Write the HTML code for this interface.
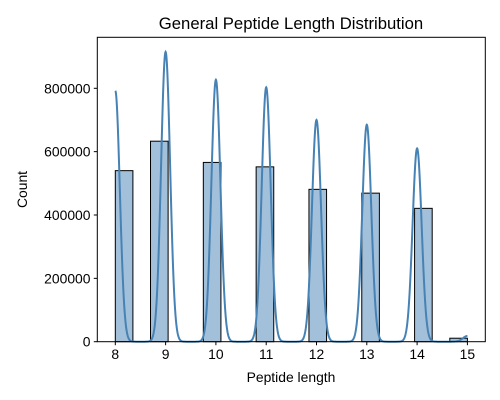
<!DOCTYPE html>
<html><head><meta charset="utf-8"><style>
body{margin:0;background:#fff;}
svg{display:block;font-family:"Liberation Sans","DejaVu Sans",sans-serif;}
</style></head><body>
<svg id="chart" width="500" height="400" viewBox="0 0 500 400">
<text x="291" y="29" font-size="16.7" text-anchor="middle">General Peptide Length Distribution</text>
<g id="bars"></g>
<path id="kde" fill="none" stroke="#4682b4" stroke-width="2"></path>
<rect x="97.3" y="37.3" width="388" height="304.4" fill="none" stroke="#000" stroke-width="1"></rect>
<g id="xt"></g>
<g id="yt"></g>
<text x="291" y="382" font-size="13.9" text-anchor="middle">Peptide length</text>
<text transform="translate(27,189.5) rotate(-90)" font-size="13.9" text-anchor="middle">Count</text>
</svg>
<script>
const binStarts=[8,8.7,9.75,10.8,11.85,12.9,13.95,14.65];
const binCounts=[540000,633000,566000,552000,481000,469000,421000,11000];
const kdeCenters=[8,9,10,11,12,13,14,15];
const kdePeaks=[792000,915000,827000,803000,700000,685000,610000,18000];
const xTicks=[8,9,10,11,12,13,14,15];
const yTicks=[0,200000,400000,600000,800000];
const binWidth=0.35, sigma=0.09;
const NS='http://www.w3.org/2000/svg';
const X=v=>115.3+(v-8)*50.3;
const Y=v=>341.7-v*253.4/800000;
const bars=document.getElementById('bars');
binStarts.forEach((s,i)=>{
  const r=document.createElementNS(NS,'rect');
  r.setAttribute('x',X(s));r.setAttribute('width',X(s+binWidth)-X(s));
  r.setAttribute('y',Y(binCounts[i]));r.setAttribute('height',Y(0)-Y(binCounts[i]));
  r.setAttribute('fill','#a3c0da');r.setAttribute('stroke','#000');r.setAttribute('stroke-width','1');
  
  
  bars.appendChild(r);
});
let d='';
for(let i=0;i<=1400;i++){
  const x=8+i*0.005;let y=0;
  kdeCenters.forEach((c,j)=>{y+=kdePeaks[j]*Math.exp(-0.5*((x-c)/sigma)**2);});
  d+=(i?'L':'M')+X(x).toFixed(2)+' '+Y(y).toFixed(2);
}
document.getElementById('kde').setAttribute('d',d);
const xt=document.getElementById('xt');
xTicks.forEach(t=>{
  const l=document.createElementNS(NS,'line');
  l.setAttribute('x1',X(t));l.setAttribute('x2',X(t));l.setAttribute('y1',341.7);l.setAttribute('y2',345.2);l.setAttribute('stroke','#000');
  
  
  xt.appendChild(l);
  const tx=document.createElementNS(NS,'text');
  tx.setAttribute('x',X(t));tx.setAttribute('y',359);tx.setAttribute('font-size','13.9');tx.setAttribute('text-anchor','middle');
  tx.textContent=t;
  
  
  xt.appendChild(tx);
});
const yt=document.getElementById('yt');
yTicks.forEach(t=>{
  const l=document.createElementNS(NS,'line');
  l.setAttribute('x1',93.8);l.setAttribute('x2',97.3);l.setAttribute('y1',Y(t));l.setAttribute('y2',Y(t));l.setAttribute('stroke','#000');
  
  
  yt.appendChild(l);
  const tx=document.createElementNS(NS,'text');
  tx.setAttribute('x',90.5);tx.setAttribute('y',Y(t)+5);tx.setAttribute('font-size','13.9');tx.setAttribute('text-anchor','end');
  tx.textContent=t;
  
  
  yt.appendChild(tx);
});
</script>
</body></html>
